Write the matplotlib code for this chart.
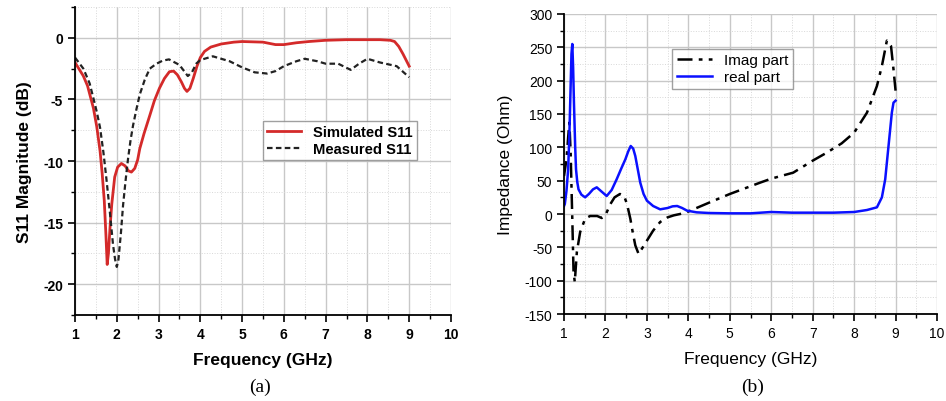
import numpy as np
import matplotlib
matplotlib.use('Agg')
import matplotlib.pyplot as plt
from matplotlib.ticker import MultipleLocator

# (a) S11 magnitude
sim_f = [1.0, 1.2, 1.3, 1.44, 1.52, 1.6, 1.65, 1.7, 1.74, 1.77, 1.8, 1.84, 1.88, 1.95, 2.02, 2.11,
         2.2, 2.28, 2.35, 2.43, 2.5, 2.55, 2.65, 2.79, 2.9, 3.02, 3.14, 3.26, 3.36, 3.45, 3.55, 3.62,
         3.68, 3.75, 3.83, 3.92, 4.0, 4.1, 4.25, 4.5, 4.8, 5.0, 5.5, 5.8, 6.0, 6.3, 6.6, 7.0,
         7.5, 8.0, 8.3, 8.55, 8.65, 8.75, 8.85, 9.0]
sim_s11 = [-2.0, -3.1, -3.9, -5.7, -7.2, -9.2, -11.0, -13.2, -16.0, -18.4, -17.5, -15.3, -13.5, -11.3, -10.5, -10.2,
           -10.4, -10.8, -10.9, -10.6, -9.9, -9.0, -7.8, -6.3, -5.1, -4.1, -3.3, -2.75, -2.7, -3.0, -3.6, -4.1,
           -4.35, -4.1, -3.3, -2.3, -1.6, -1.1, -0.75, -0.5, -0.35, -0.3, -0.35, -0.55, -0.55, -0.4, -0.3, -0.2,
           -0.15, -0.15, -0.15, -0.2, -0.3, -0.7, -1.3, -2.3]

meas_f = [1.0, 1.2, 1.35, 1.44, 1.52, 1.6, 1.68, 1.75, 1.83, 1.91, 1.96, 2.0, 2.04, 2.1, 2.15, 2.21,
          2.27, 2.33, 2.39, 2.47, 2.55, 2.67, 2.79, 2.95, 3.1, 3.25, 3.5, 3.7, 3.8, 3.9, 4.0, 4.3,
          4.7, 5.0, 5.3, 5.6, 5.8, 6.0, 6.3, 6.5, 6.8, 7.0, 7.3, 7.6, 7.8, 8.0, 8.3, 8.7,
          9.0]
meas_s11 = [-1.6, -2.5, -3.7, -4.9, -6.0, -7.3, -9.3, -11.4, -14.0, -16.8, -18.0, -18.6, -18.0, -15.8, -13.6, -11.6,
            -9.8, -8.3, -7.1, -5.8, -4.6, -3.4, -2.5, -2.1, -1.85, -1.75, -2.2, -3.1, -2.8, -2.1, -1.8, -1.5,
            -1.9, -2.4, -2.8, -2.9, -2.7, -2.3, -1.9, -1.7, -1.9, -2.1, -2.1, -2.6, -2.1, -1.7, -2.0, -2.3,
            -3.2]

# (b) impedance
re_f = [1.0, 1.02, 1.06, 1.1, 1.13, 1.16, 1.18, 1.2, 1.22, 1.24, 1.27, 1.29, 1.32, 1.35, 1.42, 1.51,
        1.6, 1.7, 1.79, 1.9, 2.03, 2.15, 2.27, 2.38, 2.48, 2.55, 2.61, 2.67, 2.72, 2.78, 2.84, 2.92,
        3.0, 3.15, 3.32, 3.5, 3.62, 3.73, 3.85, 3.97, 4.2, 4.5, 5.0, 5.5, 6.0, 6.5, 7.0, 7.5,
        8.0, 8.31, 8.55, 8.67, 8.75, 8.83, 8.91, 8.95, 9.0]
re_z = [12, 15, 35, 67, 120, 192, 240, 255, 220, 167, 100, 67, 48, 37, 29, 25,
        30, 37, 40, 34, 27, 36, 52, 68, 82, 94, 102, 98, 87, 67, 47, 30,
        20, 12, 7, 9, 11.5, 12, 9, 5, 2.5, 1.5, 1, 1, 3, 2, 2, 2,
        3, 6, 10, 25, 52, 102, 152, 167, 170]

im_f = [1.0, 1.06, 1.1, 1.13, 1.16, 1.2, 1.23, 1.26, 1.31, 1.39, 1.51, 1.63, 1.8, 1.91, 2.0, 2.11,
        2.22, 2.35, 2.45, 2.52, 2.6, 2.66, 2.72, 2.8, 2.9, 3.0, 3.15, 3.32, 3.5, 3.65, 3.8, 3.97,
        4.5, 5.0, 5.73, 6.0, 6.53, 7.0, 7.34, 7.7, 8.0, 8.31, 8.55, 8.67, 8.79, 8.89, 8.95, 9.0]
im_z = [57, 82, 115, 137, 92, -7, -87, -102, -57, -27, -7, -3, -3, -6, -2, 14,
        25, 30, 27, 15, -7, -28, -47, -60, -50, -40, -25, -12, -5, -2, 0, 3,
        17, 30, 47, 53, 62, 80, 92, 106, 122, 152, 192, 222, 260, 252, 217, 185]

plt.rcParams['font.family'] = ['Liberation Sans', 'DejaVu Sans']
plt.rcParams['axes.unicode_minus'] = False
fig = plt.figure(figsize=(9.46, 4.02), dpi=100)


def style_axes(ax, ymajor, yminor):
    ax.set_xlim(1, 10)
    ax.xaxis.set_major_locator(MultipleLocator(1))
    ax.xaxis.set_minor_locator(MultipleLocator(0.5))
    ax.yaxis.set_major_locator(MultipleLocator(ymajor))
    ax.yaxis.set_minor_locator(MultipleLocator(yminor))
    ax.grid(which='major', color='#c8c8c8', linewidth=1.0)
    ax.grid(which='minor', color='#d8d8d8', linewidth=0.7, linestyle=':')
    ax.set_axisbelow(True)
    ax.spines['top'].set_visible(False)
    ax.spines['right'].set_visible(False)
    for s in ('left', 'bottom'):
        ax.spines[s].set_linewidth(1.3)
    ax.tick_params(which='major', direction='out', length=5, width=1.2, labelsize=10)
    ax.tick_params(which='minor', direction='out', length=3, width=1.0)


ax1 = fig.add_axes([0.0793, 0.214, 0.3974, 0.766])
ax1.plot(sim_f, sim_s11, color='#d42a2a', linewidth=2, label='Simulated S11')
ax1.plot(meas_f, meas_s11, color='#222222', linewidth=1.6, linestyle=(0, (2.5, 1.5)), label='Measured S11')
ax1.set_ylim(-22.5, 2.5)
style_axes(ax1, 5, 2.5)
for lab in ax1.get_xticklabels() + ax1.get_yticklabels():
    lab.set_fontweight('bold')
ax1.set_xlabel('Frequency (GHz)', fontsize=12.5, fontweight='bold', labelpad=8)
ax1.set_ylabel('S11 Magnitude (dB)', fontsize=12.5, fontweight='bold', labelpad=8)
leg1 = ax1.legend(loc='upper left', bbox_to_anchor=(0.48, 0.655), fancybox=False,
                  edgecolor='#888888', handlelength=2.3, borderpad=0.3, labelspacing=0.2,
                  prop={'weight': 'bold', 'size': 10.6})
leg1.get_frame().set_linewidth(1.0)

ax2 = fig.add_axes([0.5962, 0.2164, 0.3943, 0.7463])
ax2.plot(im_f, im_z, color='black', linewidth=1.8, linestyle=(0, (6, 2.5, 1.5, 2.5)), label='Imag part')
ax2.plot(re_f, re_z, color='#0a10ff', linewidth=1.8, label='real part')
ax2.set_ylim(-150, 300)
style_axes(ax2, 50, 25)
ax2.set_xlabel('Frequency (GHz)', fontsize=12.5, labelpad=8)
ax2.set_ylabel('Impedance (Ohm)', fontsize=12.5, labelpad=8)
leg2 = ax2.legend(loc='upper left', bbox_to_anchor=(0.27, 0.91), fontsize=11, fancybox=False,
                  edgecolor='#888888', handlelength=2.3, borderpad=0.3, labelspacing=0.2)
leg2.get_frame().set_linewidth(1.0)

fig.text(0.275, 0.025, '(a)', fontsize=14, family=['Liberation Serif', 'DejaVu Serif'], ha='center')
fig.text(0.796, 0.025, '(b)', fontsize=14, family=['Liberation Serif', 'DejaVu Serif'], ha='center')

fig.savefig('out.png', dpi=100)
